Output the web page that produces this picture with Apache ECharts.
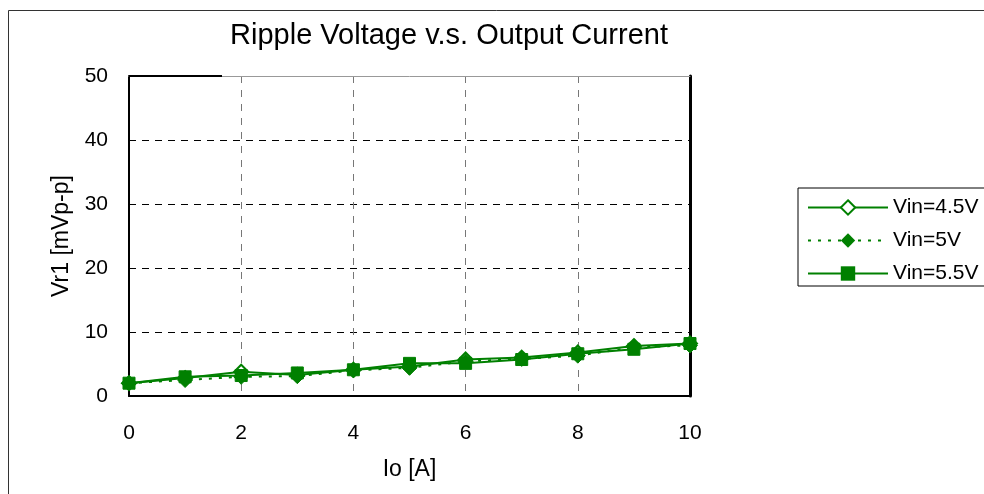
<!DOCTYPE html>
<html><head><meta charset="utf-8">
<script src="https://cdn.jsdelivr.net/npm/echarts@6/dist/echarts.min.js"></script>
<style>html,body{margin:0;padding:0;background:#fff}#c{width:984px;height:494px}</style>
</head><body><div id="c"></div>
<script>
const xValues = [0,1,2,3,4,5,6,7,8,9,10];
const vin45 = [2.0, 2.8, 3.8, 3.3, 4.1, 4.6, 5.7, 6.0, 6.8, 7.8, 8.2];
const vin50 = [2.0, 2.5, 3.0, 3.1, 4.0, 4.4, 5.4, 5.8, 6.3, 7.6, 7.9];
const vin55 = [2.0, 3.0, 3.2, 3.6, 4.1, 5.1, 5.1, 5.7, 6.6, 7.3, 8.2];
const seriesNames = ['Vin=4.5V','Vin=5V','Vin=5.5V'];
const titleText = 'Ripple Voltage v.s. Output Current';
const xName = 'Io [A]';
const yName = 'Vr1 [mVp-p]';

const green = '#008000';
const font = 'Liberation Sans, Arial, sans-serif';
const pair = a => xValues.map((x,i)=>[x,a[i]]);

const chart = echarts.init(document.getElementById('c'));
chart.setOption({
  animation:false,
  backgroundColor:'#fff',
  title:{text:titleText,left:444,top:16,textAlign:'center',
    textStyle:{fontFamily:font,fontSize:29,fontWeight:'normal',color:'#000'}},
  graphic:[
    {type:'rect',shape:{x:8.5,y:10.5,width:1000,height:500},style:{fill:'none',stroke:'#333',lineWidth:1},silent:true},
    {type:'line',shape:{x1:129,y1:76,x2:222,y2:76},style:{stroke:'#000',lineWidth:2},z:100}
  ],
  legend:{
    left:798, top:188, orient:'vertical',
    itemWidth:80, itemHeight:18, itemGap:12,
    padding:[9,8,2,9],
    borderColor:'#000', borderWidth:1,
    textStyle:{fontFamily:font,fontSize:21,color:'#000'},
    data:seriesNames
  },
  grid:{left:129,right:294,top:76,bottom:98},
  xAxis:[{
    type:'value',min:0,max:10,interval:2,
    name:xName,nameLocation:'middle',nameGap:62,
    nameTextStyle:{fontFamily:font,fontSize:23,color:'#000'},
    axisLine:{show:true,lineStyle:{color:'#000',width:2}},
    axisTick:{show:false},
    axisLabel:{fontFamily:font,fontSize:21,color:'#000',margin:27},
    splitLine:{show:true,lineStyle:{color:'#777',type:[7,7],width:1}}
  },{
    type:'value',min:0,max:10,interval:2,position:'top',
    axisLine:{show:true,onZero:false,lineStyle:{color:'#999',width:1}},
    axisTick:{show:false},axisLabel:{show:false},splitLine:{show:false}
  }],
  yAxis:[{
    type:'value',min:0,max:50,interval:10,
    name:yName,nameLocation:'middle',nameGap:56,nameRotate:90,
    nameTextStyle:{fontFamily:font,fontSize:23,color:'#000'},
    axisLine:{show:true,lineStyle:{color:'#000',width:2}},
    axisTick:{show:false},
    axisLabel:{fontFamily:font,fontSize:21,color:'#000',margin:21},
    splitLine:{show:true,lineStyle:{color:'#000',type:[7,6],width:1}}
  },{
    type:'value',min:0,max:50,interval:10,position:'right',
    axisLine:{show:true,onZero:false,lineStyle:{color:'#000',width:3}},
    axisTick:{show:false},axisLabel:{show:false},splitLine:{show:false}
  }],
  series:[
    {name:seriesNames[0],type:'line',data:pair(vin45),symbol:'diamond',symbolSize:14,
     lineStyle:{color:green,width:2},itemStyle:{color:'#fff',borderColor:green,borderWidth:2},
     color:green,z:3},
    {name:seriesNames[1],type:'line',data:pair(vin50),symbol:'diamond',symbolSize:15,
     lineStyle:{color:green,width:2,type:[3,7]},itemStyle:{color:green,borderColor:green},
     color:green,z:4},
    {name:seriesNames[2],type:'line',data:pair(vin55),symbol:'rect',symbolSize:12,
     lineStyle:{color:green,width:2},itemStyle:{color:green,borderColor:green},
     color:green,z:5}
  ]
});
</script></body></html>
